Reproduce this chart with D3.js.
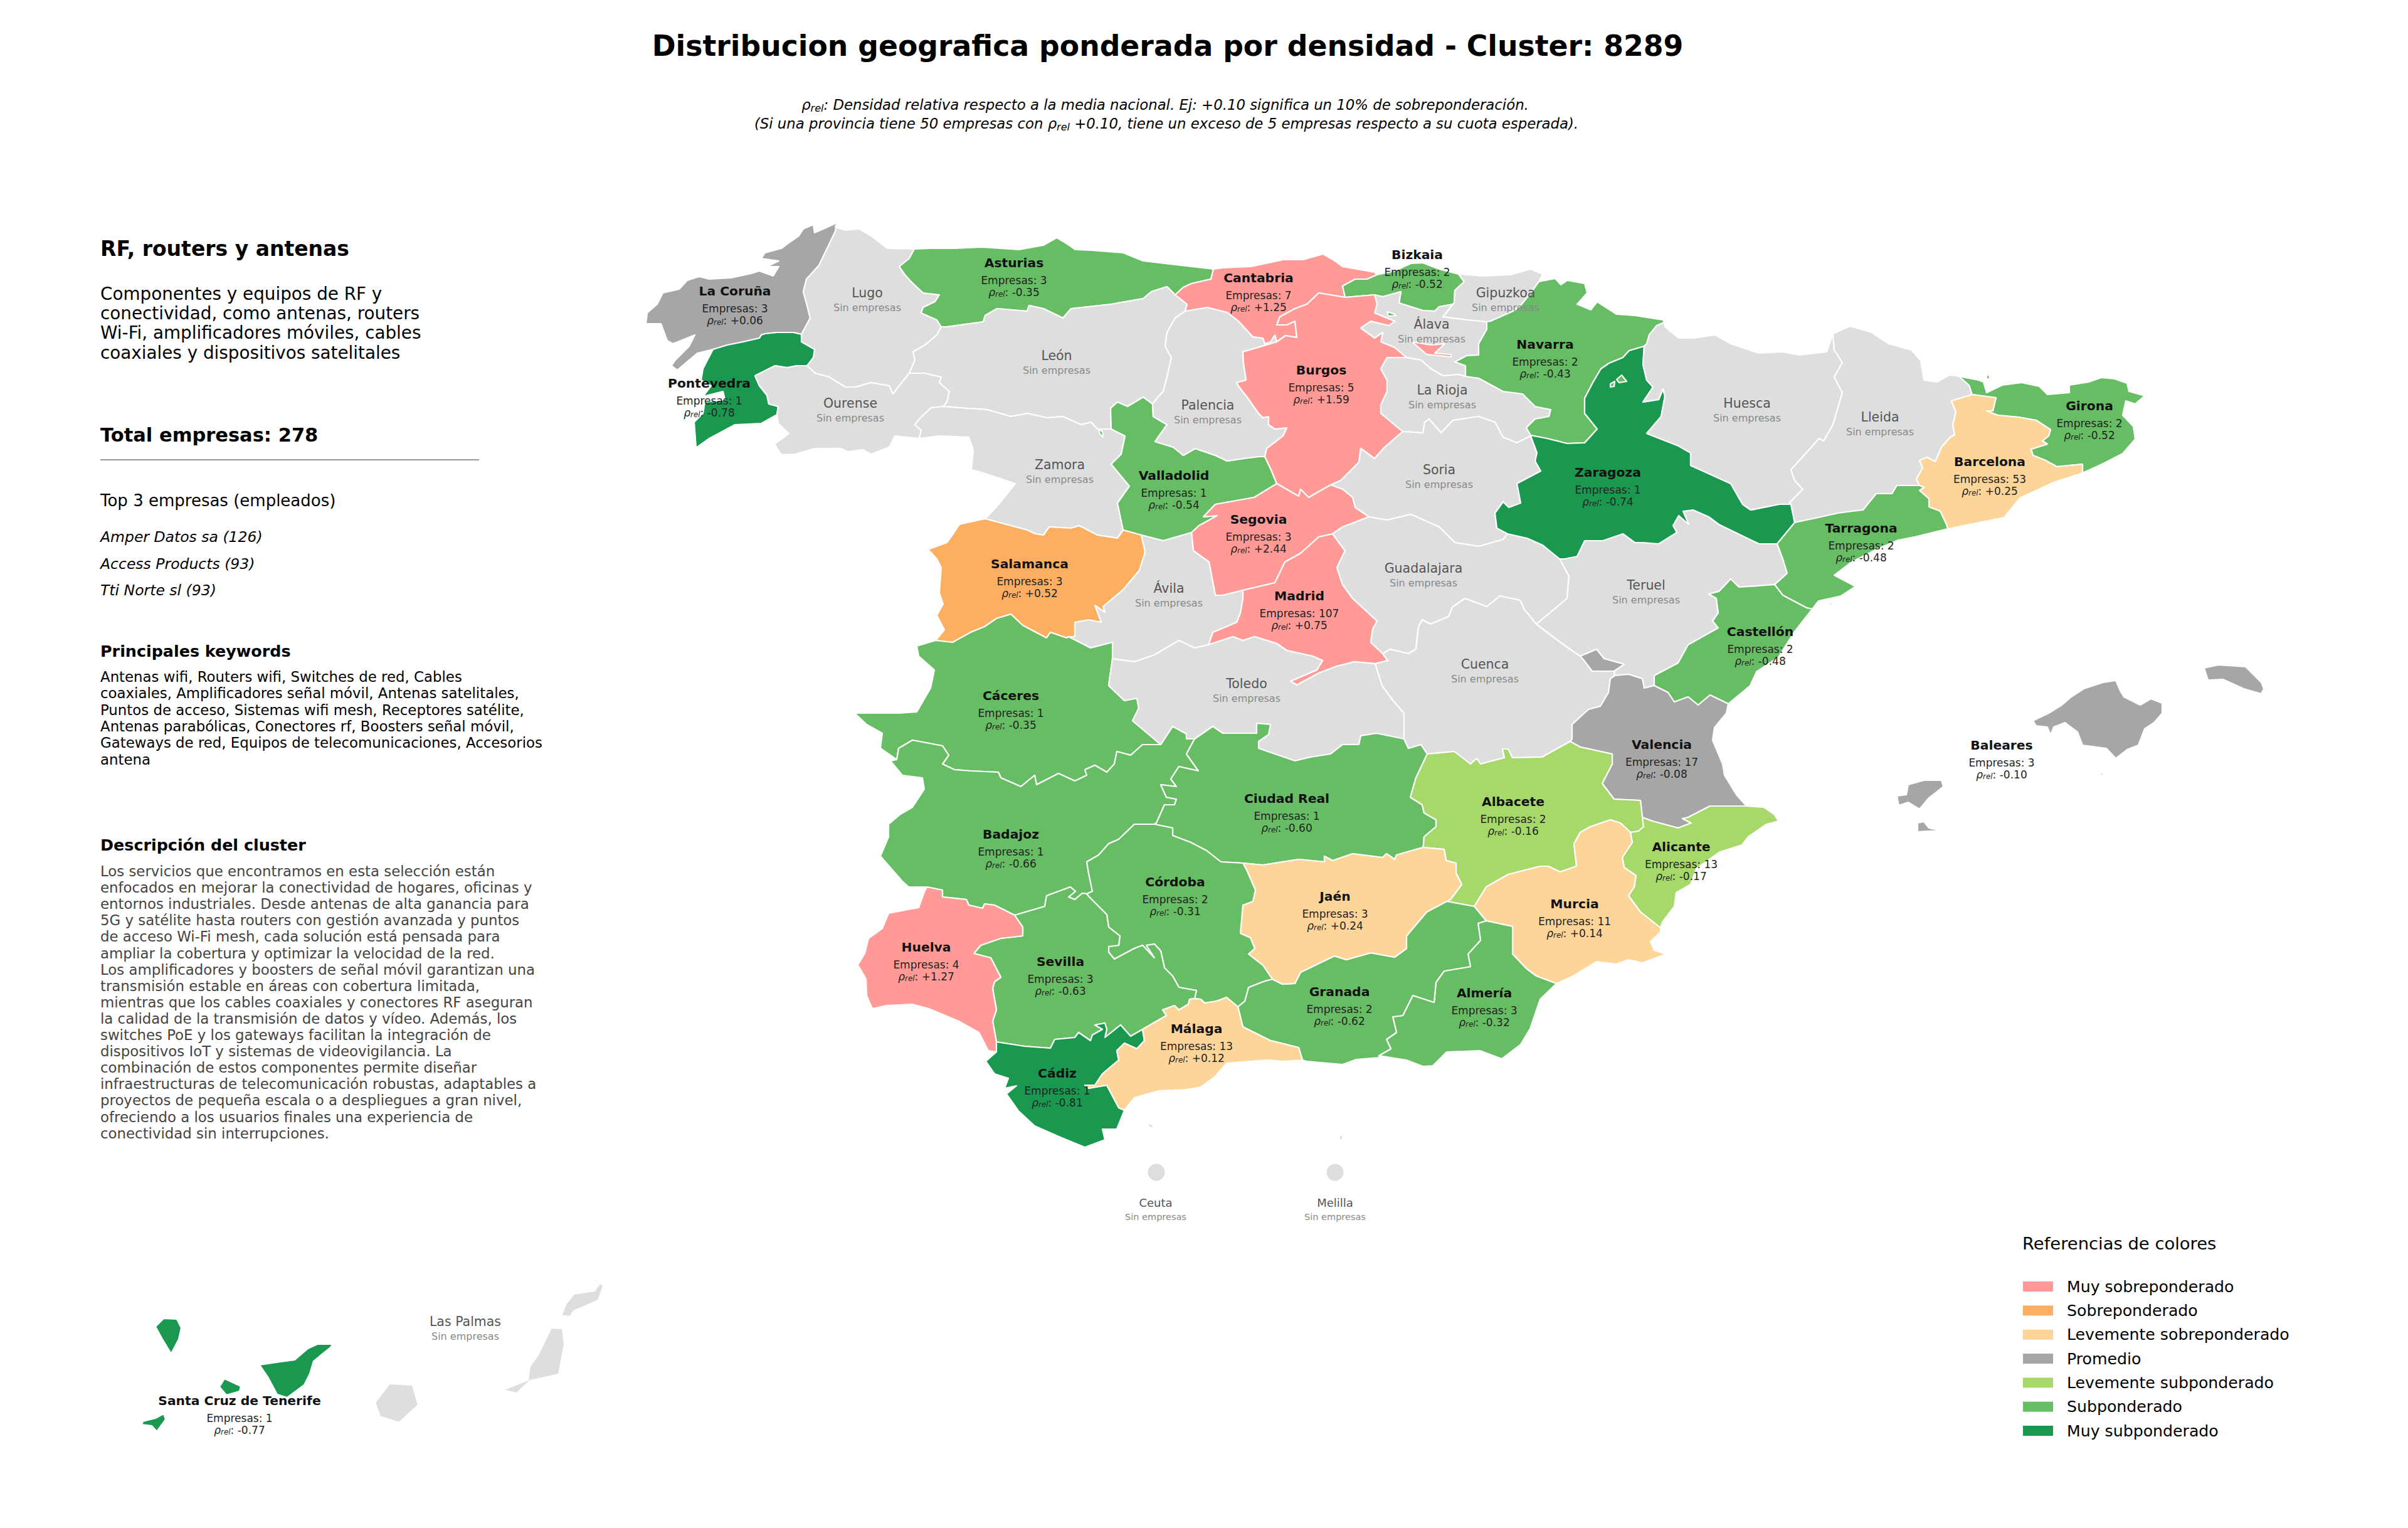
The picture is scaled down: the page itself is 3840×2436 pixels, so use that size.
<!DOCTYPE html>
<html>
<head>
<meta charset="utf-8">
<script src="https://cdn.jsdelivr.net/npm/d3@7"></script>
<style>
  html, body { margin: 0; padding: 0; background: #fff; }
  svg { display: block; }
  text { font-family: "DejaVu Sans", sans-serif; }
</style>
</head>
<body>
<div id="chart"></div>
<script>
// values
const provinceNames = ["La Coruña","Lugo","Pontevedra","Ourense","Asturias","León","Zamora","Valladolid","Palencia","Cantabria","Bizkaia","Gipuzkoa","Álava","Burgos","La Rioja","Navarra","Soria","Segovia","Madrid","Ávila","Salamanca","Cáceres","Badajoz","Toledo","Ciudad Real","Guadalajara","Cuenca","Teruel","Zaragoza","Huesca","Lleida","Girona","Barcelona","Tarragona","Castellón","Valencia","Albacete","Alicante","Murcia","Almería","Granada","Jaén","Córdoba","Sevilla","Huelva","Cádiz","Málaga","Baleares","Santa Cruz de Tenerife","Las Palmas","Ceuta","Melilla"]
const companyCounts = [3,null,1,null,3,null,null,1,null,7,2,null,null,5,null,2,null,3,107,null,3,1,1,null,1,null,null,null,1,null,null,2,53,2,2,17,2,13,11,3,2,3,2,3,4,1,13,3,1,null,null,null]
const rhoValues = [0.06,null,-0.78,null,-0.35,null,null,-0.54,null,1.25,-0.52,null,null,1.59,null,-0.43,null,2.44,0.75,null,0.52,-0.35,-0.66,null,-0.60,null,null,null,-0.74,null,null,-0.52,0.25,-0.48,-0.48,-0.08,-0.16,-0.17,0.14,-0.32,-0.62,0.24,-0.31,-0.63,1.27,-0.81,0.12,-0.10,-0.77,null,null,null]

const legendLabels = ["Muy sobreponderado","Sobreponderado","Levemente sobreponderado","Promedio","Levemente subponderado","Subponderado","Muy subponderado"]
const legendColors = ["#ff9a96","#fdae61","#fed598","#a6a6a6","#a6d96a","#66bd63","#1a9850"]
const rhoBreaks = [-0.7,-0.3,-0.15,0.1,0.5,0.7]

const panelKeywords = ["Antenas wifi, Routers wifi, Switches de red, Cables","coaxiales, Amplificadores señal móvil, Antenas satelitales,","Puntos de acceso, Sistemas wifi mesh, Receptores satélite,","Antenas parabólicas, Conectores rf, Boosters señal móvil,","Gateways de red, Equipos de telecomunicaciones, Accesorios","antena"]
const panelIntro = ["Componentes y equipos de RF y","conectividad, como antenas, routers","Wi-Fi, amplificadores móviles, cables","coaxiales y dispositivos satelitales"]
const panelTop = ["Amper Datos sa (126)","Access Products (93)","Tti Norte sl (93)"]
const panelDescription = ["Los servicios que encontramos en esta selección están","enfocados en mejorar la conectividad de hogares, oficinas y","entornos industriales. Desde antenas de alta ganancia para","5G y satélite hasta routers con gestión avanzada y puntos","de acceso Wi-Fi mesh, cada solución está pensada para","ampliar la cobertura y optimizar la velocidad de la red.","Los amplificadores y boosters de señal móvil garantizan una","transmisión estable en áreas con cobertura limitada,","mientras que los cables coaxiales y conectores RF aseguran","la calidad de la transmisión de datos y vídeo. Además, los","switches PoE y los gateways facilitan la integración de","dispositivos IoT y sistemas de videovigilancia. La","combinación de estos componentes permite diseñar","infraestructuras de telecomunicación robustas, adaptables a","proyectos de pequeña escala o a despliegues a gran nivel,","ofreciendo a los usuarios finales una experiencia de","conectividad sin interrupciones."]

// province outlines, map plane units, shared borders are typed once
const borderArcs = {
  cor_coast: "1335,355 1313,365 1299,371 1297,358 1281,365 1274,376 1258,387 1246,396 1220,403 1214,412 1242,416 1223,425 1242,425 1233,440 1211,432 1198,436 1166,443 1131,445 1115,441 1096,447 1083,461 1057,467 1048,485 1032,499 1030,516 1054,516 1064,543 1073,548 1108,534 1099,552 1077,574 1071,583 1080,590 1112,563 1137,557",
  cor_pon: "1137,557 1160,550 1185,545 1211,539 1214,534 1220,532 1239,530 1265,530 1278,533",
  cor_lug: "1278,533 1292,507 1287,487 1281,465 1286,445 1306,423 1319,396 1332,369 1335,355",
  lug_coast: "1335,355 1332,362 1348,367 1370,365 1389,376 1415,396 1458,397",
  lug_ast: "1458,397 1450,412 1434,425 1443,438 1453,449 1472,467 1498,470 1491,481 1472,490 1469,499 1494,510 1501,521",
  lug_leo: "1501,521 1494,534 1475,550 1456,561 1459,574 1450,595",
  lug_our: "1450,595 1434,615 1424,628 1418,615 1389,610 1364,617 1348,617 1322,601 1300,595 1287,583",
  lug_pon: "1287,583 1297,570 1299,557 1278,545 1278,533",
  pon_our: "1287,583 1271,583 1255,586 1236,583 1204,599 1211,615 1223,630 1226,644 1241,648 1239,661",
  pon_coast: "1239,661 1214,675 1172,677 1131,699 1110,714 1107,673 1121,659 1124,641 1156,637 1153,624 1121,632 1134,615 1118,606 1121,588 1137,557",
  our_leo: "1450,595 1475,595 1501,601 1498,610 1514,624 1510,641 1504,648",
  our_zam: "1504,648 1485,650 1466,668 1459,677 1469,686 1466,699",
  our_south: "1466,699 1427,695 1418,713 1389,724 1376,717 1351,720 1341,715 1300,715 1268,724 1246,725 1235,708 1258,691 1241,675 1239,661",
  ast_coast: "1458,397 1485,396 1523,396 1565,394 1625,398 1664,391 1685,379 1699,387 1715,398 1740,399 1791,403 1823,416 1874,422 1935,429",
  ast_can: "1935,429 1931,445 1900,452 1887,458 1874,470",
  ast_leo: "1501,521 1510,521 1568,513 1571,503 1590,492 1638,496 1641,487 1664,492 1695,507 1708,492 1772,485 1823,476 1836,465 1861,457 1874,470",
  can_leo: "1874,470 1893,485 1890,496",
  leo_pal: "1890,496 1874,507 1861,530 1858,552 1868,570 1861,601 1855,624 1845,635 1838,644",
  leo_val: "1838,644 1823,633 1810,641 1798,648 1782,641 1771,651 1772,684",
  leo_zam: "1504,648 1530,650 1574,653 1612,664 1638,659 1670,666 1695,664 1724,677 1740,673 1750,684 1772,684",
  zam_val: "1772,684 1794,695 1788,724 1772,740 1801,775 1782,802 1791,845",
  zam_port: "1466,699 1498,695 1545,697 1552,717 1549,749 1565,753 1619,771 1590,807 1571,827",
  zam_sal: "1571,827 1638,845 1651,851 1664,853 1673,840 1708,842 1721,838 1750,853 1782,858 1791,845",
  sal_val: "1791,845 1820,853",
  val_avi: "1820,853 1855,862 1900,849",
  val_seg: "1900,849 1912,838 1941,822 1919,824 1938,804 2000,793 2036,771",
  val_bur: "2017,728 2027,749 2036,771",
  val_pal: "1838,644 1839,664 1861,677 1842,704 1871,713 1887,726 1906,715 1938,726 1957,735 1983,731 2007,728 2017,728",
  can_pal: "1890,496 1925,490 1957,498 1975,512 1998,537 2014,539 2017,548 2026,545 2033,534 2036,545",
  pal_bur: "2036,545 1982,561 1983,579 1987,606 1972,610 1976,617 1988,632 2007,659 2014,666 2023,664 2023,677 2033,684 2052,682 2046,695 2020,715 2017,728",
  can_coast: "1935,429 1950,427 1995,425 2046,414 2078,414 2110,405 2129,416 2141,425 2192,434 2196,438",
  can_biz: "2196,438 2180,445 2161,445 2141,456 2145,474",
  can_bur: "2145,474 2103,467 2084,485 2065,492 2041,505 2036,518 2052,518 2065,512 2068,538 2050,535 2036,545",
  biz_coast: "2196,438 2224,432 2250,420 2269,419 2295,429 2326,437",
  biz_gip: "2326,437 2335,449 2320,463 2319,483 2317,485",
  biz_ala: "2317,485 2295,489 2288,496 2269,495 2231,483 2234,465 2205,473 2192,470",
  biz_bur: "2192,470 2145,474",
  gip_coast: "2326,437 2365,440 2409,438 2441,429 2460,437 2454,449",
  gip_nav: "2454,449 2441,467 2425,487 2413,496 2377,512 2371,513",
  ala_gip: "2371,513 2339,510 2301,505 2317,485",
  bur_ala: "2192,470 2196,485 2192,499 2224,512 2215,519 2186,512 2170,523 2192,539 2205,530 2202,545 2224,554 2243,570",
  ala_rio: "2243,570 2266,574 2282,588 2301,599 2326,597 2337,600",
  ala_nav: "2337,600 2337,583 2320,577 2339,567 2358,566 2358,548 2371,525 2371,513",
  bur_rio: "2243,570 2212,570 2202,588 2212,606 2212,624 2202,646 2202,659 2237,688",
  bur_sor: "2237,688 2208,713 2192,731 2170,715 2167,737 2138,766 2122,773",
  bur_seg: "2036,771 2071,791 2074,780 2087,793 2122,773",
  rio_nav: "2337,600 2358,603 2397,624 2428,628 2448,648 2473,653 2470,664 2448,668 2434,682 2441,694",
  rio_sor: "2237,688 2269,690 2272,673 2279,668 2298,690 2317,670 2358,664 2384,673 2397,697 2419,706 2441,695",
  nav_north: "2454,449 2480,444 2489,454 2499,447 2527,452 2531,467 2515,485 2537,494 2547,481 2578,501 2607,503 2652,510 2654,514",
  nav_hue: "2654,514 2642,519 2630,534 2626,548 2622,552",
  nav_zar: "2622,552 2598,559 2588,570 2566,579 2553,588 2540,610 2527,635 2527,659 2547,684 2527,706 2499,707 2467,699 2441,694",
  sor_zar: "2441,695 2451,722 2448,735 2457,751 2419,771 2425,802 2406,809 2397,800 2384,818 2387,842 2404,851",
  sor_gua: "2183,824 2212,829 2250,820 2295,840 2320,865 2358,871 2397,860 2404,851",
  seg_sor: "2122,773 2141,780 2157,793 2161,809 2183,824",
  seg_gua: "2183,824 2141,840 2125,851",
  seg_mad: "2125,851 2103,856 2074,882 2049,896 2033,929 1982,941",
  seg_avi: "1900,849 1903,878 1928,896 1938,949 1950,949 1982,941",
  mad_avi: "1982,941 1982,954 1978,977 1972,992 1934,1008 1927,1028",
  mad_tol: "1927,1028 1966,1015 1982,1021 2001,1015 2036,1026 2052,1037 2093,1046 2109,1053 2100,1068 2058,1086 2068,1092 2103,1073 2132,1062 2160,1055 2193,1058",
  mad_cue: "2193,1058 2213,1053 2205,1042",
  mad_gua: "2125,851 2145,878 2132,905 2141,932 2157,954 2196,990 2189,1003 2186,1024 2205,1042",
  avi_tol: "1927,1028 1905,1033 1880,1021 1841,1044 1809,1055 1774,1050",
  avi_cac: "1774,1050 1774,1024 1739,1033 1704,1015",
  avi_sal: "1820,853 1826,880 1817,909 1791,940 1759,967 1762,976 1746,965 1756,992 1736,988 1714,992 1714,1015 1704,1015",
  sal_port: "1571,827 1530,836 1520,851 1510,865 1480,876 1494,891 1501,905 1498,945 1504,963 1494,981 1506,1004 1492,1021",
  sal_cac: "1492,1021 1519,1024 1548,1008 1570,999 1589,986 1612,979 1631,997 1669,1017 1675,1008 1701,1017 1704,1015",
  cac_port: "1492,1021 1462,1030 1465,1046 1490,1068 1484,1097 1462,1135 1433,1137 1363,1137 1382,1155 1407,1169 1404,1193 1430,1211",
  cac_bad: "1430,1211 1433,1193 1455,1180 1503,1189 1513,1204 1503,1218 1522,1227 1548,1229 1592,1231 1596,1240 1628,1254 1650,1236 1653,1251 1688,1233 1714,1245 1733,1236 1730,1227 1746,1220 1765,1231 1777,1218 1781,1198 1803,1204 1822,1187 1851,1187",
  cac_tol: "1774,1050 1768,1093 1793,1117 1813,1113 1816,1129 1806,1149 1851,1187",
  bad_tol: "1851,1187 1870,1158 1892,1170 1892,1178 1905,1178",
  bad_cr: "1905,1178 1892,1202 1911,1229 1880,1222 1867,1242 1876,1254 1851,1251 1860,1271 1876,1274 1873,1283 1857,1283 1844,1312 1841,1314",
  bad_cor: "1733,1425 1742,1421 1736,1392 1733,1374 1752,1363 1768,1345 1784,1338 1809,1314 1841,1314",
  bad_sev: "1618,1459 1666,1445 1669,1428 1707,1414 1715,1421 1704,1430 1714,1434 1726,1424 1733,1425",
  bad_hue: "1478,1414 1503,1419 1503,1430 1541,1434 1545,1443 1567,1448 1570,1441 1586,1443 1618,1459",
  bad_port: "1430,1211 1420,1213 1439,1236 1471,1240 1474,1258 1455,1287 1436,1298 1417,1314 1417,1334 1404,1365 1439,1405 1449,1414 1478,1414",
  tol_cr: "1905,1178 1934,1158 1950,1169 2004,1169 2004,1153 2026,1155 2023,1171 2007,1182 2007,1193 2065,1213 2090,1207 2122,1202 2141,1187 2167,1187 2170,1173 2195,1169 2239,1178",
  tol_cue: "2193,1058 2204,1093 2220,1115 2239,1137 2239,1178",
  cr_cue: "2239,1178 2246,1193 2266,1187 2276,1202",
  cr_alb: "2269,1351 2270,1347 2271,1334 2290,1318 2290,1307 2271,1296 2268,1283 2249,1271 2258,1240 2276,1202",
  cr_jae: "1982,1376 2014,1379 2071,1370 2112,1374 2112,1365 2125,1372 2157,1361 2205,1367 2211,1361 2224,1370 2227,1363 2269,1351",
  cr_cor: "1841,1314 1870,1320 1870,1332 1899,1343 1924,1356 1947,1374 1982,1376",
  gua_zar: "2404,851 2435,858 2460,869 2487,891",
  gua_ter: "2487,891 2502,918 2499,954 2450,995",
  gua_cue: "2205,1042 2217,1035 2246,1042 2258,1035 2262,999 2268,988 2281,995 2310,983 2316,968 2336,954 2371,967 2392,950 2424,957 2431,972 2450,995",
  ter_cue: "2450,995 2479,1017 2501,1033 2520,1046 2546,1035 2558,1050 2590,1059 2574,1070 2575,1077",
  cue_val: "2575,1077 2568,1082 2565,1104 2552,1126 2533,1131 2507,1155 2507,1178 2504,1182",
  cue_alb: "2504,1182 2459,1207 2412,1208 2405,1194 2396,1194 2399,1208 2361,1218 2355,1209 2345,1218 2319,1198 2276,1202",
  ter_zar: "2834,867 2805,867 2741,836 2725,824 2700,813 2684,815 2693,836 2677,822 2668,838 2674,849 2645,867 2620,865 2607,865 2588,851 2556,862 2527,862 2515,887 2495,891 2487,891",
  ter_tar: "2834,867 2843,891 2850,914 2830,932",
  ter_cas: "2830,932 2773,936 2760,923 2741,943 2725,947 2737,954 2740,977 2731,990 2740,1001 2692,1028 2676,1057 2638,1077 2638,1093",
  ter_val: "2575,1077 2597,1075 2619,1082 2622,1097 2638,1093",
  zar_hue: "2622,552 2620,581 2626,606 2636,617 2620,641 2645,637 2652,620 2655,632 2649,664 2626,691 2677,711 2696,722 2696,742 2760,771 2779,804 2792,813 2837,804 2856,804",
  zar_lle: "2856,804 2862,833",
  zar_tar: "2862,833 2834,867",
  hue_north: "2654,514 2655,521 2677,539 2700,539 2735,534 2760,548 2805,563 2843,561 2869,566 2913,561 2923,532",
  hue_lle: "2923,532 2925,558 2938,578 2925,601 2938,626 2923,677 2908,703 2901,699 2856,749 2862,766 2875,780 2853,802 2856,804",
  lle_north: "2923,532 2950,520 2985,530 3012,548 3048,558 3063,575 3068,606 3089,609 3109,598 3124,600",
  lle_gir: "3124,600 3140,614 3145,629",
  lle_bcn: "3061,774 3056,764 3066,746 3061,734 3073,729 3086,736 3096,713 3109,698 3117,693 3114,677 3119,657 3112,639 3145,629",
  lle_tar: "2862,833 2900,825 2931,818 2954,815 2971,813 2992,787 3017,787 3025,774 3061,774",
  gir_coast: "3124,600 3155,606 3163,609 3168,626 3193,614 3224,610 3252,616 3265,629 3300,626 3300,614 3331,609 3351,602 3372,604 3392,611 3395,624 3420,631 3413,637 3405,644 3390,639 3385,662 3402,680 3405,700 3385,723 3354,739 3321,754",
  gir_bcn: "3145,629 3183,634 3178,655 3168,655 3186,662 3219,665 3247,670 3270,685 3267,695 3257,703 3265,708 3239,716 3242,726 3262,734 3280,744 3321,740 3321,754",
  bcn_coast: "3321,754 3275,769 3221,794 3196,825 3106,843",
  bcn_tar: "3061,774 3068,777 3061,782 3076,795 3076,808 3094,815 3104,836 3106,843",
  tar_coast: "3106,843 3053,856 3027,861 2992,876 2951,897 2925,917 2959,935 2936,950 2900,958 2890,971",
  tar_cas: "2830,932 2843,949 2881,969 2890,971",
  cas_coast: "2890,971 2861,1008 2836,1048 2801,1071 2791,1093 2756,1122",
  cas_val: "2638,1093 2660,1104 2670,1119 2692,1111 2708,1124 2727,1108 2756,1122",
  val_coast: "2756,1122 2753,1137 2734,1160 2731,1180 2747,1218 2750,1236 2769,1267 2785,1285",
  val_ali: "2785,1285 2762,1285 2727,1285 2692,1303 2683,1305 2697,1312 2676,1320 2635,1309 2619,1303",
  val_alb: "2504,1182 2520,1191 2571,1202 2571,1218 2555,1249 2574,1274 2616,1276 2619,1303",
  ali_alb: "2619,1303 2621,1318 2613,1325 2600,1327",
  mur_alb: "2600,1327 2584,1312 2568,1307 2536,1318 2520,1327 2510,1345 2514,1381 2488,1390 2469,1381 2456,1381 2405,1394 2370,1414 2351,1445",
  alb_gra: "2351,1445 2307,1437",
  jae_alb: "2269,1351 2303,1354 2306,1372 2322,1376 2322,1392 2331,1410 2313,1434 2307,1437",
  ali_coast: "2785,1285 2813,1287 2829,1298 2836,1309 2817,1314 2788,1334 2778,1347 2743,1358 2705,1385 2696,1410 2673,1423 2670,1445 2651,1470 2648,1479",
  ali_mur: "2600,1327 2603,1343 2587,1367 2590,1383 2609,1396 2606,1414 2597,1428 2616,1454 2648,1479",
  mur_coast: "2648,1479 2648,1486 2632,1501 2638,1515 2657,1521 2619,1535 2597,1530 2577,1537 2546,1533 2507,1557 2482,1568",
  mur_alm: "2482,1568 2450,1556 2434,1544 2412,1521 2412,1477 2370,1468",
  mur_gra: "2370,1468 2351,1445",
  alm_coast: "2482,1568 2456,1593 2440,1640 2425,1665 2395,1688 2360,1675 2307,1677 2285,1699 2269,1700 2243,1690 2199,1683",
  gra_alm: "2370,1468 2357,1472 2361,1499 2341,1521 2345,1541 2303,1548 2290,1566 2287,1598 2253,1587 2237,1619 2221,1621 2227,1646 2211,1657 2218,1672 2199,1683",
  jae_gra: "2029,1561 2045,1569 2065,1568 2074,1550 2128,1524 2147,1530 2186,1519 2224,1526 2243,1512 2243,1492 2275,1454 2307,1437",
  cor_gra: "2029,1561 2017,1564 1991,1574 1985,1596 1974,1605",
  mal_gra: "1974,1605 1982,1637 2026,1659 2071,1670 2077,1690",
  gra_coast: "2077,1690 2084,1692 2141,1697 2163,1689 2199,1686",
  cor_jae: "1982,1376 1988,1387 2002,1419 1998,1437 1982,1443 1978,1488 1994,1495 2001,1512 1991,1521 2014,1539 2029,1561",
  cor_mal: "1974,1605 1956,1590 1940,1596 1921,1599 1915,1593 1905,1592",
  cor_sev: "1905,1592 1908,1579 1880,1574 1870,1556 1857,1543 1851,1516 1841,1505 1828,1507 1841,1527 1822,1507 1809,1512 1777,1529 1768,1518 1768,1509 1784,1507 1786,1492 1768,1478 1765,1458 1736,1429 1733,1425",
  hue_sev: "1618,1459 1631,1478 1631,1492 1596,1496 1564,1507 1553,1520 1580,1527 1596,1558 1586,1565 1583,1576 1589,1610 1583,1628 1589,1661",
  sev_cad: "1589,1661 1634,1668 1675,1671 1682,1657 1714,1654 1720,1646 1739,1659 1742,1650 1758,1641 1746,1634 1762,1631 1765,1641 1762,1654 1787,1634 1803,1652 1822,1641",
  sev_mal: "1822,1641 1860,1619 1854,1610 1873,1603 1880,1610 1895,1601 1897,1593 1905,1592",
  hue_coast: "1589,1677 1576,1675 1561,1646 1529,1628 1481,1608 1455,1601 1414,1603 1391,1608 1382,1587 1381,1561 1368,1538 1379,1520 1385,1496 1407,1480 1417,1456 1443,1451 1465,1447 1474,1422 1478,1414",
  cad_mal: "1822,1641 1825,1659 1813,1672 1793,1663 1781,1675 1784,1690 1758,1712 1746,1730 1730,1730 1736,1735 1765,1730 1784,1766 1793,1770",
  cad_coast: "1793,1770 1781,1800 1758,1800 1762,1817 1730,1829 1691,1813 1650,1795 1624,1771 1605,1744 1621,1731 1602,1735 1608,1719 1586,1712 1572,1692 1589,1677",
  mal_coast: "1793,1770 1809,1750 1848,1739 1892,1737 1915,1733 1937,1717 1956,1695 2020,1690 2045,1692 2077,1690"
}

// which arcs close each province, "-" walks an arc backwards
const provinceRings = {
  "La Coruña": "cor_coast cor_pon cor_lug",
  "Lugo": "lug_coast lug_ast lug_leo lug_our lug_pon cor_lug",
  "Pontevedra": "cor_pon -lug_pon pon_our pon_coast",
  "Ourense": "-lug_our our_leo our_zam our_south -pon_our",
  "Asturias": "ast_coast ast_can -ast_leo -lug_ast",
  "León": "ast_leo can_leo leo_pal leo_val -leo_zam -our_leo -lug_leo",
  "Zamora": "leo_zam zam_val -zam_sal -zam_port -our_zam",
  "Valladolid": "-leo_val val_pal val_bur -val_seg -val_avi -sal_val -zam_val",
  "Palencia": "can_pal pal_bur -val_pal -leo_pal",
  "Cantabria": "can_coast can_biz can_bur -can_pal -can_leo -ast_can",
  "Bizkaia": "biz_coast biz_gip biz_ala biz_bur -can_biz",
  "Gipuzkoa": "gip_coast gip_nav ala_gip -biz_gip",
  "Álava": "-biz_ala -ala_gip -ala_nav -ala_rio -bur_ala",
  "Burgos": "-can_bur -biz_bur bur_ala bur_rio bur_sor -bur_seg -val_bur -pal_bur",
  "La Rioja": "ala_rio rio_nav -rio_sor -bur_rio",
  "Navarra": "nav_north nav_hue nav_zar -rio_nav ala_nav -gip_nav",
  "Soria": "rio_sor sor_zar -sor_gua -seg_sor -bur_sor",
  "Segovia": "val_seg bur_seg seg_sor seg_gua seg_mad -seg_avi",
  "Madrid": "-seg_mad mad_gua -mad_cue -mad_tol -mad_avi",
  "Ávila": "val_avi seg_avi mad_avi avi_tol avi_cac -avi_sal",
  "Salamanca": "zam_sal sal_val avi_sal -sal_cac -sal_port",
  "Cáceres": "sal_cac -avi_cac cac_tol -cac_bad -cac_port",
  "Badajoz": "cac_bad bad_tol bad_cr -bad_cor -bad_sev -bad_hue -bad_port",
  "Toledo": "-avi_tol mad_tol tol_cue -tol_cr -bad_tol -cac_tol",
  "Ciudad Real": "tol_cr cr_cue -cr_alb -cr_jae -cr_cor -bad_cr",
  "Guadalajara": "sor_gua gua_zar gua_ter -gua_cue -mad_gua -seg_gua",
  "Cuenca": "gua_cue ter_cue cue_val cue_alb -cr_cue -tol_cue mad_cue",
  "Teruel": "-ter_zar ter_tar ter_cas -ter_val -ter_cue -gua_ter",
  "Zaragoza": "-nav_zar zar_hue zar_lle zar_tar ter_zar -gua_zar -sor_zar",
  "Huesca": "hue_north hue_lle -zar_hue -nav_hue",
  "Lleida": "lle_north lle_gir -lle_bcn -lle_tar -zar_lle -hue_lle",
  "Girona": "gir_coast -gir_bcn -lle_gir",
  "Barcelona": "gir_bcn bcn_coast -bcn_tar lle_bcn",
  "Tarragona": "lle_tar bcn_tar tar_coast -tar_cas -ter_tar -zar_tar",
  "Castellón": "tar_cas cas_coast -cas_val -ter_cas",
  "Valencia": "ter_val cas_val val_coast val_ali -val_alb -cue_val",
  "Albacete": "-cue_alb val_alb ali_alb mur_alb alb_gra -jae_alb cr_alb",
  "Alicante": "ali_coast -ali_mur -ali_alb -val_ali",
  "Murcia": "ali_mur mur_coast mur_alm mur_gra -mur_alb",
  "Almería": "-mur_alm alm_coast -gra_alm",
  "Granada": "jae_gra -alb_gra -mur_gra gra_alm -gra_coast -mal_gra -cor_gra",
  "Jaén": "cr_jae jae_alb -jae_gra -cor_jae",
  "Córdoba": "bad_cor cr_cor cor_jae cor_gra cor_mal cor_sev",
  "Sevilla": "bad_sev -cor_sev -sev_mal -sev_cad -hue_sev",
  "Huelva": "bad_hue hue_sev hue_coast",
  "Cádiz": "sev_cad cad_mal cad_coast",
  "Málaga": "sev_mal -cor_mal mal_gra -mal_coast -cad_mal"
}

// loose pieces: enclaves and islands, painted over the mainland
const extraRings = {
  "Burgos": ["2252,545 2282,550 2304,548 2288,563 2314,565 2314,569 2275,565"],
  "Valencia": ["2520,1046 2546,1035 2558,1050 2590,1059 2574,1070 2539,1070 2526,1053"],
  "Navarra": ["2578,605 2586,598 2594,608 2582,610", "2568,612 2575,608 2574,616 2568,617"],
  "Bizkaia": ["2212,497 2222,500 2226,503 2214,504"],
  "Valladolid": ["1752,684 1758,688 1759,697 1754,692"],
  "Girona": ["3168,598 3172,598 3173,604 3168,604"],
  "Castellón": ["2914,963 2922,960 2925,961 2917,965"],
  "Baleares": [
    "3242,1149 3267,1137 3288,1124 3303,1111 3323,1098 3354,1088 3374,1085 3382,1103 3387,1111 3413,1124 3430,1114 3448,1121 3448,1137 3435,1152 3420,1162 3410,1188 3392,1195 3374,1209 3359,1193 3321,1188 3313,1167 3293,1152 3275,1159 3270,1172 3265,1159 3247,1157",
    "3515,1065 3538,1060 3581,1063 3606,1088 3610,1098 3606,1106 3578,1098 3545,1083 3521,1084",
    "3025,1269 3040,1267 3043,1251 3068,1244 3096,1244 3099,1254 3076,1272 3061,1290 3043,1279 3028,1284",
    "3058,1312 3068,1310 3076,1320 3093,1324 3058,1326",
    "3349,1232 3354,1233 3353,1236 3349,1235"
  ],
  "Santa Cruz de Tenerife": [
    "261,2102 282,2103 289,2117 285,2135 273,2158 259,2135 248,2115",
    "414,2176 448,2171 470,2168 491,2150 506,2143 531,2143 527,2148 500,2170 494,2190 485,2208 458,2228 442,2223 427,2195",
    "358,2198 384,2210 382,2218 361,2224 350,2211",
    "261,2254 264,2263 250,2282 242,2273 226,2271 228,2266 248,2261"
  ],
  "Las Palmas": [
    "621,2206 658,2208 667,2240 636,2268 606,2258 598,2236",
    "879,2117 897,2118 900,2143 891,2191 845,2201 824,2221 802,2216 842,2200 845,2178 858,2160",
    "957,2045 962,2050 954,2073 915,2090 909,2099 895,2097 903,2078 915,2063 948,2058",
    "951,2037 953,2042 947,2043"
  ],
  "Ceuta": ["1832,1792 1837,1794 1838,1797 1833,1796"],
  "Melilla": ["2137,1811 2140,1811 2140,1816 2137,1816"]
}

// the two small autonomous cities are drawn as dots
const cityDots = { "Ceuta": [1844, 1869], "Melilla": [2129, 1869] }

// label anchors: x, y of the name line
const labelAnchors = {
  "La Coruña":[1172,464],"Lugo":[1383,467],"Pontevedra":[1131,611],"Ourense":[1356,643],"Asturias":[1617,419],"León":[1685,567],"Zamora":[1690,741],"Valladolid":[1872,758],"Palencia":[1926,646],"Cantabria":[2007,443],"Bizkaia":[2260,406],"Gipuzkoa":[2401,467],"Álava":[2283,517],"Burgos":[2107,590],"La Rioja":[2300,622],"Navarra":[2464,549],"Soria":[2295,749],"Segovia":[2007,828],"Madrid":[2072,950],"Ávila":[1864,938],"Salamanca":[1642,899],"Cáceres":[1612,1109],"Badajoz":[1612,1330],"Toledo":[1988,1090],"Ciudad Real":[2052,1273],"Guadalajara":[2270,906],"Cuenca":[2368,1059],"Teruel":[2625,933],"Zaragoza":[2564,753],"Huesca":[2786,643],"Lleida":[2998,665],"Girona":[3332,647],"Barcelona":[3173,736],"Tarragona":[2968,842],"Castellón":[2807,1007],"Valencia":[2650,1187],"Albacete":[2413,1278],"Alicante":[2681,1350],"Murcia":[2511,1441],"Almería":[2367,1583],"Granada":[2136,1581],"Jaén":[2129,1429],"Córdoba":[1874,1406],"Sevilla":[1691,1533],"Huelva":[1477,1510],"Cádiz":[1686,1711],"Málaga":[1908,1640],"Baleares":[3192,1188],"Santa Cruz de Tenerife":[382,2233],"Las Palmas":[742,2107],"Ceuta":[1843,1917],"Melilla":[2129,1917]
}

const W = 3840, H = 2436

const svg = d3.select("#chart").append("svg")
  .attr("width", W)
  .attr("height", H)
  .attr("viewBox", `0 0 ${W} ${H}`)

const color = d3.scaleThreshold().domain(rhoBreaks).range(legendColors.slice().reverse())
const emptyColor = "#dedede"

const parseRing = s => s.trim().split(/\s+/).map(p => p.split(",").map(Number))

function walkArcs(spec) {
  let ring = []
  spec.split(" ").forEach(name => {
    const back = name[0] === "-"
    const pts = parseRing(borderArcs[back ? name.slice(1) : name])
    ring = ring.concat(back ? pts.reverse() : pts)
  })
  ring.push(ring[0])
  return ring
}

function closeRing(s) {
  const pts = parseRing(s)
  pts.push(pts[0])
  return pts
}

function toFeature(name, rings) {
  const i = provinceNames.indexOf(name)
  return {
    type: "Feature",
    properties: { name, rho: rhoValues[i] },
    geometry: { type: "MultiPolygon", coordinates: rings.map(r => [r]) }
  }
}

// mainland first, then the loose pieces on top of it
const features = Object.keys(provinceRings)
  .map(name => toFeature(name, [walkArcs(provinceRings[name])]))
  .concat(Object.keys(extraRings).map(name => toFeature(name, extraRings[name].map(closeRing))))

const path = d3.geoPath(d3.geoIdentity())
const fillOf = rho => rho === null ? emptyColor : color(rho)

svg.append("g")
  .selectAll("path")
  .data(features)
  .join("path")
  .attr("d", path)
  .attr("fill", d => fillOf(d.properties.rho))
  .attr("stroke", "#fff")
  .attr("stroke-width", d => d.properties.name === "Ceuta" || d.properties.name === "Melilla" ? 0 : 2.2)
  .attr("stroke-linejoin", "round")

svg.append("g")
  .selectAll("circle")
  .data(Object.entries(cityDots))
  .join("circle")
  .attr("cx", d => d[1][0])
  .attr("cy", d => d[1][1])
  .attr("r", 13.5)
  .attr("fill", emptyColor)

////////////////////////////////////
////////////// labels //////////////
////////////////////////////////////

function rhoLine(sel, x, y, fontSize, valueText, fill) {
  const t = sel.append("text")
    .attr("x", x).attr("y", y)
    .attr("text-anchor", "middle")
    .attr("dominant-baseline", "central")
    .attr("font-size", fontSize)
    .attr("fill", fill)
  t.append("tspan").attr("font-style", "italic").text("ρ")
  t.append("tspan").attr("font-style", "italic")
    .attr("font-size", fontSize * 0.7).attr("dy", fontSize * 0.2).text("rel")
  t.append("tspan").attr("dy", -fontSize * 0.2).text(valueText)
}

// plain hyphen for negatives, as in the picture
const fmtRho = v => d3.format("+.2f")(v).replace("−", "-")
const labels = svg.append("g")

provinceNames.forEach((name, i) => {
  const [x, y] = labelAnchors[name]
  const has = companyCounts[i] !== null
  const isCity = name in cityDots
  labels.append("text")
    .attr("x", x).attr("y", y)
    .attr("text-anchor", "middle")
    .attr("dominant-baseline", "central")
    .attr("font-size", has ? 20.3 : (isCity ? 18 : 20.5))
    .attr("font-weight", has ? "bold" : "normal")
    .attr("fill", has ? "#111" : "#555")
    .text(name)
  if (has) {
    labels.append("text")
      .attr("x", x).attr("y", y + 28)
      .attr("text-anchor", "middle")
      .attr("dominant-baseline", "central")
      .attr("font-size", 17)
      .attr("fill", "#222")
      .text("Empresas: " + companyCounts[i])
    rhoLine(labels, x, y + 47, 17, ": " + fmtRho(rhoValues[i]), "#222")
  } else {
    labels.append("text")
      .attr("x", x).attr("y", y + 23)
      .attr("text-anchor", "middle")
      .attr("dominant-baseline", "central")
      .attr("font-size", isCity ? 14.5 : 16)
      .attr("fill", "#888")
      .text("Sin empresas")
  }
})

////////////////////////////////////
/////////// title block ////////////
////////////////////////////////////

svg.append("text")
  .attr("x", 1862).attr("y", 73)
  .attr("text-anchor", "middle").attr("dominant-baseline", "central")
  .attr("font-size", 45.7).attr("font-weight", "bold").attr("fill", "#000")
  .text("Distribucion geografica ponderada por densidad - Cluster: 8289")

const sub1 = svg.append("text")
  .attr("x", 1858).attr("y", 167)
  .attr("text-anchor", "middle").attr("dominant-baseline", "central")
  .attr("font-size", 22.8).attr("font-style", "italic").attr("fill", "#000")
sub1.append("tspan").text("ρ")
sub1.append("tspan").attr("font-size", 16).attr("dy", 5).text("rel")
sub1.append("tspan").attr("dy", -5).text(": Densidad relativa respecto a la media nacional. Ej: +0.10 significa un 10% de sobreponderación.")

const sub2 = svg.append("text")
  .attr("x", 1860).attr("y", 197)
  .attr("text-anchor", "middle").attr("dominant-baseline", "central")
  .attr("font-size", 22.8).attr("font-style", "italic").attr("fill", "#000")
sub2.append("tspan").text("(Si una provincia tiene 50 empresas con ρ")
sub2.append("tspan").attr("font-size", 16).attr("dy", 5).text("rel")
sub2.append("tspan").attr("dy", -5).text(" +0.10, tiene un exceso de 5 empresas respecto a su cuota esperada).")

////////////////////////////////////
//////////// left panel ////////////
////////////////////////////////////

const panel = svg.append("g").attr("transform", "translate(160,0)")

function panelText(y, str, size, opts = {}) {
  panel.append("text")
    .attr("x", 0).attr("y", y)
    .attr("dominant-baseline", "central")
    .attr("font-size", size)
    .attr("font-weight", opts.bold ? "bold" : "normal")
    .attr("font-style", opts.italic ? "italic" : "normal")
    .attr("fill", opts.fill || "#000")
    .text(str)
}

panelText(396, "RF, routers y antenas", 33, { bold: true })
panelIntro.forEach((s, i) => panelText(468 + i * 31.4, s, 27.8))
panelText(693, "Total empresas: 278", 30.5, { bold: true })
panel.append("line")
  .attr("x1", 0).attr("x2", 604).attr("y1", 733).attr("y2", 733)
  .attr("stroke", "#999").attr("stroke-width", 2)
panelText(798, "Top 3 empresas (empleados)", 26)
panelTop.forEach((s, i) => panelText(856 + i * 42.5, s, 23.5, { italic: true }))
panelText(1038, "Principales keywords", 25.4, { bold: true })
panelKeywords.forEach((s, i) => panelText(1079 + i * 26.3, s, 22.85))
panelText(1347, "Descripción del cluster", 25.4, { bold: true })
panelDescription.forEach((s, i) => panelText(1389 + i * 26.1, s, 22.85, { fill: "#444" }))

////////////////////////////////////
////////////// legend //////////////
////////////////////////////////////

const legend = svg.append("g")
const rowY = d3.scaleLinear().domain([0, legendLabels.length - 1]).range([2051, 2281])

legend.append("text")
  .attr("x", 3225).attr("y", 1982)
  .attr("dominant-baseline", "central")
  .attr("font-size", 27.4).attr("fill", "#000")
  .text("Referencias de colores")

legend.selectAll("rect")
  .data(legendLabels)
  .join("rect")
  .attr("x", 3226)
  .attr("y", (d, i) => rowY(i) - 8)
  .attr("width", 48)
  .attr("height", 16)
  .attr("fill", (d, i) => legendColors[i])

legend.selectAll("text.row")
  .data(legendLabels)
  .join("text")
  .attr("class", "row")
  .attr("x", 3296)
  .attr("y", (d, i) => rowY(i))
  .attr("dominant-baseline", "central")
  .attr("font-size", 25.2)
  .attr("fill", "#000")
  .text(d => d)
</script>
</body>
</html>
